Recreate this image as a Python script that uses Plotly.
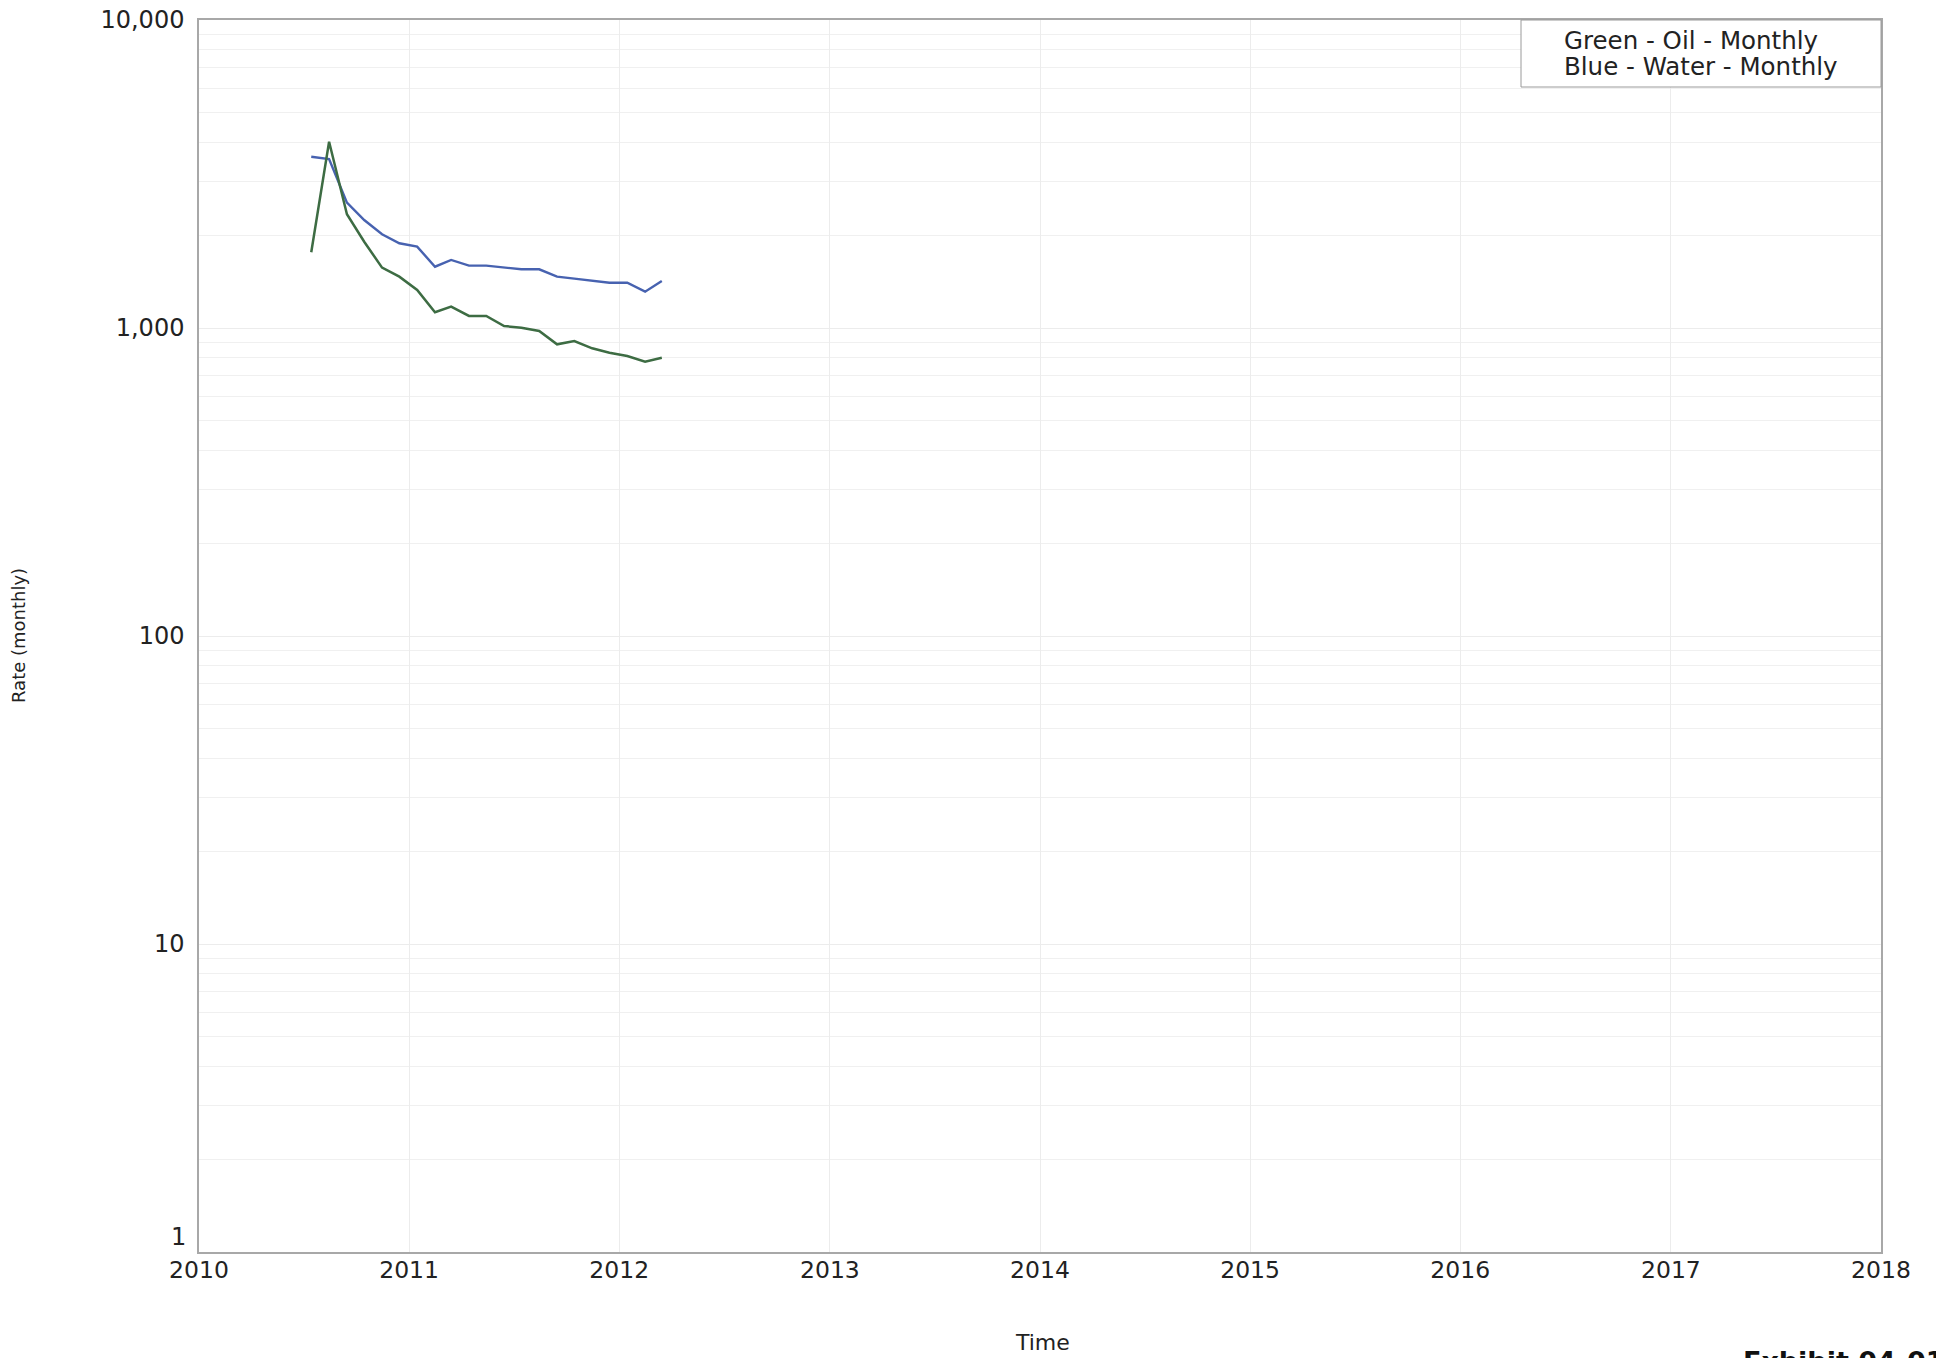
import plotly.graph_objects as go

# Monthly production rates
dates = [
    "2010-07-15", "2010-08-15", "2010-09-15", "2010-10-15", "2010-11-15",
    "2010-12-15", "2011-01-15", "2011-02-15", "2011-03-15", "2011-04-15",
    "2011-05-15", "2011-06-15", "2011-07-15", "2011-08-15", "2011-09-15",
    "2011-10-15", "2011-11-15", "2011-12-15", "2012-01-15", "2012-02-15",
    "2012-03-15",
]
oil_monthly = [
    1762, 4026, 2340, 1906, 1570, 1468, 1329, 1125, 1173, 1094,
    1094, 1015, 1002, 978, 885, 907, 859, 831, 811, 777, 801,
]
water_monthly = [
    3598, 3537, 2552, 2242, 2015, 1884, 1837, 1581, 1663, 1594,
    1594, 1570, 1551, 1551, 1468, 1446, 1424, 1403, 1403, 1312, 1421,
]

year_ticks = [f"{y}-01-01" for y in range(2010, 2019)]
year_labels = [str(y) for y in range(2010, 2019)]
# the "1" label sits just above the bottom frame, so it is drawn separately
rate_ticks = [10, 100, 1000, 10000]
rate_labels = ["10", "100", "1,000", "10,000"]
rate_minor = [m * 10 ** d for d in range(4) for m in range(2, 10)]

WIDE = "DejaVu Sans, Verdana, sans-serif"
INK = "#222222"
GRID = "#ececec"
FRAME = "#a8a8a8"

# plot-area pixel box used to place the overlay texts
L, R, T, B = 199, 1881, 20, 1252


def px(x):
    return (x - L) / (R - L)


def py(y):
    return 1 - (y - T) / (B - T)


fig = go.Figure()
fig.add_trace(go.Scatter(
    x=dates, y=water_monthly, mode="lines", name="Water",
    line=dict(color="#4762b0", width=2.4),
))
fig.add_trace(go.Scatter(
    x=dates, y=oil_monthly, mode="lines", name="Oil",
    line=dict(color="#3d6c43", width=2.5),
))

fig.update_layout(
    width=1936, height=1358,
    margin=dict(l=L, r=1936 - R, t=T, b=1358 - B, autoexpand=False),
    paper_bgcolor="white", plot_bgcolor="white",
    showlegend=False,
    font=dict(family=WIDE, color=INK),
)

fig.update_xaxes(
    type="date", automargin=False,
    range=["2010-01-01", "2018-01-01"],
    tickvals=year_ticks, ticktext=year_labels,
    tickfont=dict(size=23.5, family=WIDE, color=INK),
    ticks="", ticklabelstandoff=-4,
    showgrid=True, gridcolor=GRID, gridwidth=1,
    showline=True, linecolor=FRAME, linewidth=1.5, mirror=True,
    zeroline=False,
)
fig.update_yaxes(
    type="log", automargin=False,
    range=[0, 4],
    tickvals=rate_ticks, ticktext=rate_labels,
    tickfont=dict(size=24, family=WIDE, color=INK),
    ticks="", ticklabelstandoff=8,
    showgrid=True, gridcolor=GRID, gridwidth=1,
    minor=dict(tickvals=rate_minor, showgrid=True, gridcolor="#f0f0f0", ticks=""),
    showline=True, linecolor=FRAME, linewidth=1.5, mirror=True,
    zeroline=False,
)

fig.add_annotation(
    xref="paper", yref="paper", x=px(188), y=py(1237),
    xanchor="right", yanchor="middle", showarrow=False,
    text="1", font=dict(size=24, family=WIDE, color=INK),
)

# Legend box in the top-right corner of the plot
fig.add_shape(
    type="rect", xref="paper", yref="paper",
    x0=px(1521), x1=1.0, y0=py(87), y1=1.0,
    line=dict(color="#9a9a9a", width=1), fillcolor="white", layer="above",
)
fig.add_annotation(
    xref="paper", yref="paper", x=px(1562), y=py(40),
    xanchor="left", yanchor="middle", showarrow=False,
    text="Green - Oil - Monthly", font=dict(size=24.5, family=WIDE, color=INK),
)
fig.add_annotation(
    xref="paper", yref="paper", x=px(1562), y=py(66),
    xanchor="left", yanchor="middle", showarrow=False,
    text="Blue - Water - Monthly", font=dict(size=24.5, family=WIDE, color=INK),
)

# Axis titles
fig.add_annotation(
    xref="paper", yref="paper", x=px(1042), y=py(1342),
    xanchor="center", yanchor="middle", showarrow=False,
    text="Time", font=dict(size=22, family=WIDE, color=INK),
)
fig.add_annotation(
    xref="paper", yref="paper", x=px(18), y=py(636),
    xanchor="center", yanchor="middle", showarrow=False, textangle=-90,
    text="Rate (monthly)", font=dict(size=18, family=WIDE, color=INK),
)

# Exhibit label at the lower right
fig.add_annotation(
    xref="paper", yref="paper", x=px(1741), y=py(1344),
    xanchor="left", yanchor="top", showarrow=False,
    text="<b>Exhibit 04-01</b>", font=dict(size=27, family=WIDE, color="#111111"),
)

fig.write_html("out.html")
